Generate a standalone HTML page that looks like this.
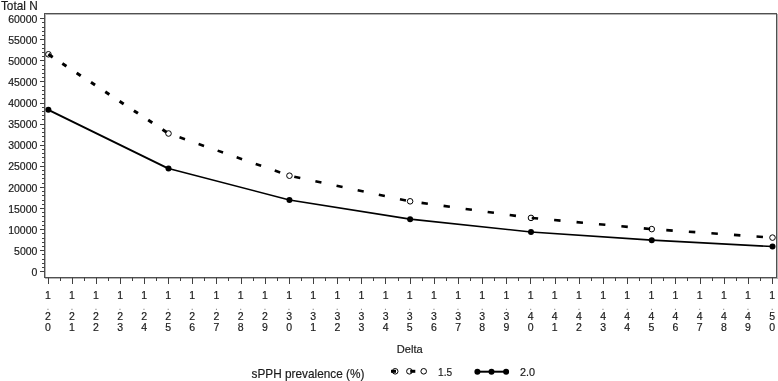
<!DOCTYPE html>
<html><head><meta charset="utf-8"><style>
html,body{margin:0;padding:0;background:#fff;}
body{width:778px;height:381px;overflow:hidden;}
svg{display:block;will-change:transform;}
text{font-family:"Liberation Sans",sans-serif;fill:#1a1a1a;stroke:#1a1a1a;stroke-width:0.18px;}
</style></head><body>
<svg width="778" height="381" viewBox="0 0 778 381">
<rect x="0" y="0" width="778" height="381" fill="#fff"/>
<rect x="45.5" y="14.5" width="732.0" height="264.0" fill="none" stroke="#b4b4b4" stroke-width="1"/>
<rect x="44.5" y="13.5" width="732.0" height="264.0" fill="none" stroke="#505050" stroke-width="1"/>
<line x1="40" y1="271.5" x2="44.5" y2="271.5" stroke="#404040"/>
<text transform="translate(31.56,275.90) scale(1.0000,1)" style="font-size:10.5px">0</text>
<line x1="42" y1="267.5" x2="44.5" y2="267.5" stroke="#404040"/>
<line x1="42" y1="263.5" x2="44.5" y2="263.5" stroke="#404040"/>
<line x1="42" y1="259.5" x2="44.5" y2="259.5" stroke="#404040"/>
<line x1="42" y1="254.5" x2="44.5" y2="254.5" stroke="#404040"/>
<line x1="40" y1="250.5" x2="44.5" y2="250.5" stroke="#404040"/>
<text transform="translate(14.06,254.81) scale(1.0000,1)" style="font-size:10.5px">5000</text>
<line x1="42" y1="246.5" x2="44.5" y2="246.5" stroke="#404040"/>
<line x1="42" y1="242.5" x2="44.5" y2="242.5" stroke="#404040"/>
<line x1="42" y1="238.5" x2="44.5" y2="238.5" stroke="#404040"/>
<line x1="42" y1="233.5" x2="44.5" y2="233.5" stroke="#404040"/>
<line x1="40" y1="229.5" x2="44.5" y2="229.5" stroke="#404040"/>
<text transform="translate(8.19,233.72) scale(1.0000,1)" style="font-size:10.5px">10000</text>
<line x1="42" y1="225.5" x2="44.5" y2="225.5" stroke="#404040"/>
<line x1="42" y1="221.5" x2="44.5" y2="221.5" stroke="#404040"/>
<line x1="42" y1="216.5" x2="44.5" y2="216.5" stroke="#404040"/>
<line x1="42" y1="212.5" x2="44.5" y2="212.5" stroke="#404040"/>
<line x1="40" y1="208.5" x2="44.5" y2="208.5" stroke="#404040"/>
<text transform="translate(8.19,212.62) scale(1.0000,1)" style="font-size:10.5px">15000</text>
<line x1="42" y1="204.5" x2="44.5" y2="204.5" stroke="#404040"/>
<line x1="42" y1="200.5" x2="44.5" y2="200.5" stroke="#404040"/>
<line x1="42" y1="195.5" x2="44.5" y2="195.5" stroke="#404040"/>
<line x1="42" y1="191.5" x2="44.5" y2="191.5" stroke="#404040"/>
<line x1="40" y1="187.5" x2="44.5" y2="187.5" stroke="#404040"/>
<text transform="translate(8.19,191.53) scale(1.0000,1)" style="font-size:10.5px">20000</text>
<line x1="42" y1="183.5" x2="44.5" y2="183.5" stroke="#404040"/>
<line x1="42" y1="178.5" x2="44.5" y2="178.5" stroke="#404040"/>
<line x1="42" y1="174.5" x2="44.5" y2="174.5" stroke="#404040"/>
<line x1="42" y1="170.5" x2="44.5" y2="170.5" stroke="#404040"/>
<line x1="40" y1="166.5" x2="44.5" y2="166.5" stroke="#404040"/>
<text transform="translate(8.19,170.44) scale(1.0000,1)" style="font-size:10.5px">25000</text>
<line x1="42" y1="162.5" x2="44.5" y2="162.5" stroke="#404040"/>
<line x1="42" y1="157.5" x2="44.5" y2="157.5" stroke="#404040"/>
<line x1="42" y1="153.5" x2="44.5" y2="153.5" stroke="#404040"/>
<line x1="42" y1="149.5" x2="44.5" y2="149.5" stroke="#404040"/>
<line x1="40" y1="145.5" x2="44.5" y2="145.5" stroke="#404040"/>
<text transform="translate(8.19,149.35) scale(1.0000,1)" style="font-size:10.5px">30000</text>
<line x1="42" y1="141.5" x2="44.5" y2="141.5" stroke="#404040"/>
<line x1="42" y1="136.5" x2="44.5" y2="136.5" stroke="#404040"/>
<line x1="42" y1="132.5" x2="44.5" y2="132.5" stroke="#404040"/>
<line x1="42" y1="128.5" x2="44.5" y2="128.5" stroke="#404040"/>
<line x1="40" y1="124.5" x2="44.5" y2="124.5" stroke="#404040"/>
<text transform="translate(8.19,128.26) scale(1.0000,1)" style="font-size:10.5px">35000</text>
<line x1="42" y1="119.5" x2="44.5" y2="119.5" stroke="#404040"/>
<line x1="42" y1="115.5" x2="44.5" y2="115.5" stroke="#404040"/>
<line x1="42" y1="111.5" x2="44.5" y2="111.5" stroke="#404040"/>
<line x1="42" y1="107.5" x2="44.5" y2="107.5" stroke="#404040"/>
<line x1="40" y1="103.5" x2="44.5" y2="103.5" stroke="#404040"/>
<text transform="translate(8.19,107.17) scale(1.0000,1)" style="font-size:10.5px">40000</text>
<line x1="42" y1="98.5" x2="44.5" y2="98.5" stroke="#404040"/>
<line x1="42" y1="94.5" x2="44.5" y2="94.5" stroke="#404040"/>
<line x1="42" y1="90.5" x2="44.5" y2="90.5" stroke="#404040"/>
<line x1="42" y1="86.5" x2="44.5" y2="86.5" stroke="#404040"/>
<line x1="40" y1="81.5" x2="44.5" y2="81.5" stroke="#404040"/>
<text transform="translate(8.19,86.07) scale(1.0000,1)" style="font-size:10.5px">45000</text>
<line x1="42" y1="77.5" x2="44.5" y2="77.5" stroke="#404040"/>
<line x1="42" y1="73.5" x2="44.5" y2="73.5" stroke="#404040"/>
<line x1="42" y1="69.5" x2="44.5" y2="69.5" stroke="#404040"/>
<line x1="42" y1="65.5" x2="44.5" y2="65.5" stroke="#404040"/>
<line x1="40" y1="60.5" x2="44.5" y2="60.5" stroke="#404040"/>
<text transform="translate(8.19,64.98) scale(1.0000,1)" style="font-size:10.5px">50000</text>
<line x1="42" y1="56.5" x2="44.5" y2="56.5" stroke="#404040"/>
<line x1="42" y1="52.5" x2="44.5" y2="52.5" stroke="#404040"/>
<line x1="42" y1="48.5" x2="44.5" y2="48.5" stroke="#404040"/>
<line x1="42" y1="44.5" x2="44.5" y2="44.5" stroke="#404040"/>
<line x1="40" y1="39.5" x2="44.5" y2="39.5" stroke="#404040"/>
<text transform="translate(8.19,43.89) scale(1.0000,1)" style="font-size:10.5px">55000</text>
<line x1="42" y1="35.5" x2="44.5" y2="35.5" stroke="#404040"/>
<line x1="42" y1="31.5" x2="44.5" y2="31.5" stroke="#404040"/>
<line x1="42" y1="27.5" x2="44.5" y2="27.5" stroke="#404040"/>
<line x1="42" y1="22.5" x2="44.5" y2="22.5" stroke="#404040"/>
<line x1="40" y1="18.5" x2="44.5" y2="18.5" stroke="#404040"/>
<text transform="translate(8.19,22.80) scale(1.0000,1)" style="font-size:10.5px">60000</text>
<line x1="48.5" y1="277.5" x2="48.5" y2="284" stroke="#404040"/>
<line x1="60.5" y1="277.5" x2="60.5" y2="281" stroke="#404040"/>
<text x="48.00" y="299.00" text-anchor="middle" style="font-size:10.5px">1</text>
<text x="48.00" y="309.70" text-anchor="middle" style="font-size:10.5px;fill:#8a8a8a;stroke:none">.</text>
<text x="48.00" y="320.40" text-anchor="middle" style="font-size:10.5px">2</text>
<text x="48.00" y="331.10" text-anchor="middle" style="font-size:10.5px">0</text>
<line x1="72.5" y1="277.5" x2="72.5" y2="284" stroke="#404040"/>
<line x1="84.5" y1="277.5" x2="84.5" y2="281" stroke="#404040"/>
<text x="72.02" y="299.00" text-anchor="middle" style="font-size:10.5px">1</text>
<text x="72.02" y="309.70" text-anchor="middle" style="font-size:10.5px;fill:#8a8a8a;stroke:none">.</text>
<text x="72.02" y="320.40" text-anchor="middle" style="font-size:10.5px">2</text>
<text x="72.02" y="331.10" text-anchor="middle" style="font-size:10.5px">1</text>
<line x1="96.5" y1="277.5" x2="96.5" y2="284" stroke="#404040"/>
<line x1="108.5" y1="277.5" x2="108.5" y2="281" stroke="#404040"/>
<text x="96.04" y="299.00" text-anchor="middle" style="font-size:10.5px">1</text>
<text x="96.04" y="309.70" text-anchor="middle" style="font-size:10.5px;fill:#8a8a8a;stroke:none">.</text>
<text x="96.04" y="320.40" text-anchor="middle" style="font-size:10.5px">2</text>
<text x="96.04" y="331.10" text-anchor="middle" style="font-size:10.5px">2</text>
<line x1="120.5" y1="277.5" x2="120.5" y2="284" stroke="#404040"/>
<line x1="132.5" y1="277.5" x2="132.5" y2="281" stroke="#404040"/>
<text x="120.06" y="299.00" text-anchor="middle" style="font-size:10.5px">1</text>
<text x="120.06" y="309.70" text-anchor="middle" style="font-size:10.5px;fill:#8a8a8a;stroke:none">.</text>
<text x="120.06" y="320.40" text-anchor="middle" style="font-size:10.5px">2</text>
<text x="120.06" y="331.10" text-anchor="middle" style="font-size:10.5px">3</text>
<line x1="144.5" y1="277.5" x2="144.5" y2="284" stroke="#404040"/>
<line x1="156.5" y1="277.5" x2="156.5" y2="281" stroke="#404040"/>
<text x="144.08" y="299.00" text-anchor="middle" style="font-size:10.5px">1</text>
<text x="144.08" y="309.70" text-anchor="middle" style="font-size:10.5px;fill:#8a8a8a;stroke:none">.</text>
<text x="144.08" y="320.40" text-anchor="middle" style="font-size:10.5px">2</text>
<text x="144.08" y="331.10" text-anchor="middle" style="font-size:10.5px">4</text>
<line x1="168.5" y1="277.5" x2="168.5" y2="284" stroke="#404040"/>
<line x1="180.5" y1="277.5" x2="180.5" y2="281" stroke="#404040"/>
<text x="168.10" y="299.00" text-anchor="middle" style="font-size:10.5px">1</text>
<text x="168.10" y="309.70" text-anchor="middle" style="font-size:10.5px;fill:#8a8a8a;stroke:none">.</text>
<text x="168.10" y="320.40" text-anchor="middle" style="font-size:10.5px">2</text>
<text x="168.10" y="331.10" text-anchor="middle" style="font-size:10.5px">5</text>
<line x1="192.5" y1="277.5" x2="192.5" y2="284" stroke="#404040"/>
<line x1="204.5" y1="277.5" x2="204.5" y2="281" stroke="#404040"/>
<text x="192.29" y="299.00" text-anchor="middle" style="font-size:10.5px">1</text>
<text x="192.29" y="309.70" text-anchor="middle" style="font-size:10.5px;fill:#8a8a8a;stroke:none">.</text>
<text x="192.29" y="320.40" text-anchor="middle" style="font-size:10.5px">2</text>
<text x="192.29" y="331.10" text-anchor="middle" style="font-size:10.5px">6</text>
<line x1="216.5" y1="277.5" x2="216.5" y2="284" stroke="#404040"/>
<line x1="228.5" y1="277.5" x2="228.5" y2="281" stroke="#404040"/>
<text x="216.48" y="299.00" text-anchor="middle" style="font-size:10.5px">1</text>
<text x="216.48" y="309.70" text-anchor="middle" style="font-size:10.5px;fill:#8a8a8a;stroke:none">.</text>
<text x="216.48" y="320.40" text-anchor="middle" style="font-size:10.5px">2</text>
<text x="216.48" y="331.10" text-anchor="middle" style="font-size:10.5px">7</text>
<line x1="241.5" y1="277.5" x2="241.5" y2="284" stroke="#404040"/>
<line x1="253.5" y1="277.5" x2="253.5" y2="281" stroke="#404040"/>
<text x="240.67" y="299.00" text-anchor="middle" style="font-size:10.5px">1</text>
<text x="240.67" y="309.70" text-anchor="middle" style="font-size:10.5px;fill:#8a8a8a;stroke:none">.</text>
<text x="240.67" y="320.40" text-anchor="middle" style="font-size:10.5px">2</text>
<text x="240.67" y="331.10" text-anchor="middle" style="font-size:10.5px">8</text>
<line x1="265.5" y1="277.5" x2="265.5" y2="284" stroke="#404040"/>
<line x1="277.5" y1="277.5" x2="277.5" y2="281" stroke="#404040"/>
<text x="264.86" y="299.00" text-anchor="middle" style="font-size:10.5px">1</text>
<text x="264.86" y="309.70" text-anchor="middle" style="font-size:10.5px;fill:#8a8a8a;stroke:none">.</text>
<text x="264.86" y="320.40" text-anchor="middle" style="font-size:10.5px">2</text>
<text x="264.86" y="331.10" text-anchor="middle" style="font-size:10.5px">9</text>
<line x1="289.5" y1="277.5" x2="289.5" y2="284" stroke="#404040"/>
<line x1="301.5" y1="277.5" x2="301.5" y2="281" stroke="#404040"/>
<text x="289.05" y="299.00" text-anchor="middle" style="font-size:10.5px">1</text>
<text x="289.05" y="309.70" text-anchor="middle" style="font-size:10.5px;fill:#8a8a8a;stroke:none">.</text>
<text x="289.05" y="320.40" text-anchor="middle" style="font-size:10.5px">3</text>
<text x="289.05" y="331.10" text-anchor="middle" style="font-size:10.5px">0</text>
<line x1="313.5" y1="277.5" x2="313.5" y2="284" stroke="#404040"/>
<line x1="325.5" y1="277.5" x2="325.5" y2="281" stroke="#404040"/>
<text x="313.18" y="299.00" text-anchor="middle" style="font-size:10.5px">1</text>
<text x="313.18" y="309.70" text-anchor="middle" style="font-size:10.5px;fill:#8a8a8a;stroke:none">.</text>
<text x="313.18" y="320.40" text-anchor="middle" style="font-size:10.5px">3</text>
<text x="313.18" y="331.10" text-anchor="middle" style="font-size:10.5px">1</text>
<line x1="337.5" y1="277.5" x2="337.5" y2="284" stroke="#404040"/>
<line x1="349.5" y1="277.5" x2="349.5" y2="281" stroke="#404040"/>
<text x="337.31" y="299.00" text-anchor="middle" style="font-size:10.5px">1</text>
<text x="337.31" y="309.70" text-anchor="middle" style="font-size:10.5px;fill:#8a8a8a;stroke:none">.</text>
<text x="337.31" y="320.40" text-anchor="middle" style="font-size:10.5px">3</text>
<text x="337.31" y="331.10" text-anchor="middle" style="font-size:10.5px">2</text>
<line x1="361.5" y1="277.5" x2="361.5" y2="284" stroke="#404040"/>
<line x1="373.5" y1="277.5" x2="373.5" y2="281" stroke="#404040"/>
<text x="361.44" y="299.00" text-anchor="middle" style="font-size:10.5px">1</text>
<text x="361.44" y="309.70" text-anchor="middle" style="font-size:10.5px;fill:#8a8a8a;stroke:none">.</text>
<text x="361.44" y="320.40" text-anchor="middle" style="font-size:10.5px">3</text>
<text x="361.44" y="331.10" text-anchor="middle" style="font-size:10.5px">3</text>
<line x1="385.5" y1="277.5" x2="385.5" y2="284" stroke="#404040"/>
<line x1="398.5" y1="277.5" x2="398.5" y2="281" stroke="#404040"/>
<text x="385.57" y="299.00" text-anchor="middle" style="font-size:10.5px">1</text>
<text x="385.57" y="309.70" text-anchor="middle" style="font-size:10.5px;fill:#8a8a8a;stroke:none">.</text>
<text x="385.57" y="320.40" text-anchor="middle" style="font-size:10.5px">3</text>
<text x="385.57" y="331.10" text-anchor="middle" style="font-size:10.5px">4</text>
<line x1="410.5" y1="277.5" x2="410.5" y2="284" stroke="#404040"/>
<line x1="422.5" y1="277.5" x2="422.5" y2="281" stroke="#404040"/>
<text x="409.70" y="299.00" text-anchor="middle" style="font-size:10.5px">1</text>
<text x="409.70" y="309.70" text-anchor="middle" style="font-size:10.5px;fill:#8a8a8a;stroke:none">.</text>
<text x="409.70" y="320.40" text-anchor="middle" style="font-size:10.5px">3</text>
<text x="409.70" y="331.10" text-anchor="middle" style="font-size:10.5px">5</text>
<line x1="434.5" y1="277.5" x2="434.5" y2="284" stroke="#404040"/>
<line x1="446.5" y1="277.5" x2="446.5" y2="281" stroke="#404040"/>
<text x="433.88" y="299.00" text-anchor="middle" style="font-size:10.5px">1</text>
<text x="433.88" y="309.70" text-anchor="middle" style="font-size:10.5px;fill:#8a8a8a;stroke:none">.</text>
<text x="433.88" y="320.40" text-anchor="middle" style="font-size:10.5px">3</text>
<text x="433.88" y="331.10" text-anchor="middle" style="font-size:10.5px">6</text>
<line x1="458.5" y1="277.5" x2="458.5" y2="284" stroke="#404040"/>
<line x1="470.5" y1="277.5" x2="470.5" y2="281" stroke="#404040"/>
<text x="458.06" y="299.00" text-anchor="middle" style="font-size:10.5px">1</text>
<text x="458.06" y="309.70" text-anchor="middle" style="font-size:10.5px;fill:#8a8a8a;stroke:none">.</text>
<text x="458.06" y="320.40" text-anchor="middle" style="font-size:10.5px">3</text>
<text x="458.06" y="331.10" text-anchor="middle" style="font-size:10.5px">7</text>
<line x1="482.5" y1="277.5" x2="482.5" y2="284" stroke="#404040"/>
<line x1="494.5" y1="277.5" x2="494.5" y2="281" stroke="#404040"/>
<text x="482.24" y="299.00" text-anchor="middle" style="font-size:10.5px">1</text>
<text x="482.24" y="309.70" text-anchor="middle" style="font-size:10.5px;fill:#8a8a8a;stroke:none">.</text>
<text x="482.24" y="320.40" text-anchor="middle" style="font-size:10.5px">3</text>
<text x="482.24" y="331.10" text-anchor="middle" style="font-size:10.5px">8</text>
<line x1="506.5" y1="277.5" x2="506.5" y2="284" stroke="#404040"/>
<line x1="518.5" y1="277.5" x2="518.5" y2="281" stroke="#404040"/>
<text x="506.42" y="299.00" text-anchor="middle" style="font-size:10.5px">1</text>
<text x="506.42" y="309.70" text-anchor="middle" style="font-size:10.5px;fill:#8a8a8a;stroke:none">.</text>
<text x="506.42" y="320.40" text-anchor="middle" style="font-size:10.5px">3</text>
<text x="506.42" y="331.10" text-anchor="middle" style="font-size:10.5px">9</text>
<line x1="530.5" y1="277.5" x2="530.5" y2="284" stroke="#404040"/>
<line x1="543.5" y1="277.5" x2="543.5" y2="281" stroke="#404040"/>
<text x="530.60" y="299.00" text-anchor="middle" style="font-size:10.5px">1</text>
<text x="530.60" y="309.70" text-anchor="middle" style="font-size:10.5px;fill:#8a8a8a;stroke:none">.</text>
<text x="530.60" y="320.40" text-anchor="middle" style="font-size:10.5px">4</text>
<text x="530.60" y="331.10" text-anchor="middle" style="font-size:10.5px">0</text>
<line x1="555.5" y1="277.5" x2="555.5" y2="284" stroke="#404040"/>
<line x1="567.5" y1="277.5" x2="567.5" y2="281" stroke="#404040"/>
<text x="554.75" y="299.00" text-anchor="middle" style="font-size:10.5px">1</text>
<text x="554.75" y="309.70" text-anchor="middle" style="font-size:10.5px;fill:#8a8a8a;stroke:none">.</text>
<text x="554.75" y="320.40" text-anchor="middle" style="font-size:10.5px">4</text>
<text x="554.75" y="331.10" text-anchor="middle" style="font-size:10.5px">1</text>
<line x1="579.5" y1="277.5" x2="579.5" y2="284" stroke="#404040"/>
<line x1="591.5" y1="277.5" x2="591.5" y2="281" stroke="#404040"/>
<text x="578.90" y="299.00" text-anchor="middle" style="font-size:10.5px">1</text>
<text x="578.90" y="309.70" text-anchor="middle" style="font-size:10.5px;fill:#8a8a8a;stroke:none">.</text>
<text x="578.90" y="320.40" text-anchor="middle" style="font-size:10.5px">4</text>
<text x="578.90" y="331.10" text-anchor="middle" style="font-size:10.5px">2</text>
<line x1="603.5" y1="277.5" x2="603.5" y2="284" stroke="#404040"/>
<line x1="615.5" y1="277.5" x2="615.5" y2="281" stroke="#404040"/>
<text x="603.05" y="299.00" text-anchor="middle" style="font-size:10.5px">1</text>
<text x="603.05" y="309.70" text-anchor="middle" style="font-size:10.5px;fill:#8a8a8a;stroke:none">.</text>
<text x="603.05" y="320.40" text-anchor="middle" style="font-size:10.5px">4</text>
<text x="603.05" y="331.10" text-anchor="middle" style="font-size:10.5px">3</text>
<line x1="627.5" y1="277.5" x2="627.5" y2="284" stroke="#404040"/>
<line x1="639.5" y1="277.5" x2="639.5" y2="281" stroke="#404040"/>
<text x="627.20" y="299.00" text-anchor="middle" style="font-size:10.5px">1</text>
<text x="627.20" y="309.70" text-anchor="middle" style="font-size:10.5px;fill:#8a8a8a;stroke:none">.</text>
<text x="627.20" y="320.40" text-anchor="middle" style="font-size:10.5px">4</text>
<text x="627.20" y="331.10" text-anchor="middle" style="font-size:10.5px">4</text>
<line x1="651.5" y1="277.5" x2="651.5" y2="284" stroke="#404040"/>
<line x1="663.5" y1="277.5" x2="663.5" y2="281" stroke="#404040"/>
<text x="651.35" y="299.00" text-anchor="middle" style="font-size:10.5px">1</text>
<text x="651.35" y="309.70" text-anchor="middle" style="font-size:10.5px;fill:#8a8a8a;stroke:none">.</text>
<text x="651.35" y="320.40" text-anchor="middle" style="font-size:10.5px">4</text>
<text x="651.35" y="331.10" text-anchor="middle" style="font-size:10.5px">5</text>
<line x1="675.5" y1="277.5" x2="675.5" y2="284" stroke="#404040"/>
<line x1="687.5" y1="277.5" x2="687.5" y2="281" stroke="#404040"/>
<text x="675.50" y="299.00" text-anchor="middle" style="font-size:10.5px">1</text>
<text x="675.50" y="309.70" text-anchor="middle" style="font-size:10.5px;fill:#8a8a8a;stroke:none">.</text>
<text x="675.50" y="320.40" text-anchor="middle" style="font-size:10.5px">4</text>
<text x="675.50" y="331.10" text-anchor="middle" style="font-size:10.5px">6</text>
<line x1="700.5" y1="277.5" x2="700.5" y2="284" stroke="#404040"/>
<line x1="712.5" y1="277.5" x2="712.5" y2="281" stroke="#404040"/>
<text x="699.65" y="299.00" text-anchor="middle" style="font-size:10.5px">1</text>
<text x="699.65" y="309.70" text-anchor="middle" style="font-size:10.5px;fill:#8a8a8a;stroke:none">.</text>
<text x="699.65" y="320.40" text-anchor="middle" style="font-size:10.5px">4</text>
<text x="699.65" y="331.10" text-anchor="middle" style="font-size:10.5px">7</text>
<line x1="724.5" y1="277.5" x2="724.5" y2="284" stroke="#404040"/>
<line x1="736.5" y1="277.5" x2="736.5" y2="281" stroke="#404040"/>
<text x="723.80" y="299.00" text-anchor="middle" style="font-size:10.5px">1</text>
<text x="723.80" y="309.70" text-anchor="middle" style="font-size:10.5px;fill:#8a8a8a;stroke:none">.</text>
<text x="723.80" y="320.40" text-anchor="middle" style="font-size:10.5px">4</text>
<text x="723.80" y="331.10" text-anchor="middle" style="font-size:10.5px">8</text>
<line x1="748.5" y1="277.5" x2="748.5" y2="284" stroke="#404040"/>
<line x1="760.5" y1="277.5" x2="760.5" y2="281" stroke="#404040"/>
<text x="747.95" y="299.00" text-anchor="middle" style="font-size:10.5px">1</text>
<text x="747.95" y="309.70" text-anchor="middle" style="font-size:10.5px;fill:#8a8a8a;stroke:none">.</text>
<text x="747.95" y="320.40" text-anchor="middle" style="font-size:10.5px">4</text>
<text x="747.95" y="331.10" text-anchor="middle" style="font-size:10.5px">9</text>
<line x1="772.5" y1="277.5" x2="772.5" y2="284" stroke="#404040"/>
<text x="772.10" y="299.00" text-anchor="middle" style="font-size:10.5px">1</text>
<text x="772.10" y="309.70" text-anchor="middle" style="font-size:10.5px;fill:#8a8a8a;stroke:none">.</text>
<text x="772.10" y="320.40" text-anchor="middle" style="font-size:10.5px">5</text>
<text x="772.10" y="331.10" text-anchor="middle" style="font-size:10.5px">0</text>
<line x1="48.40" y1="109.85" x2="168.50" y2="168.55" stroke="#000" stroke-width="2.0" stroke-linecap="round"/>
<line x1="168.50" y1="168.55" x2="289.45" y2="199.95" stroke="#000" stroke-width="1.65" stroke-linecap="round"/>
<line x1="289.45" y1="199.95" x2="410.10" y2="219.15" stroke="#000" stroke-width="1.65" stroke-linecap="round"/>
<line x1="410.10" y1="219.15" x2="531.00" y2="231.95" stroke="#000" stroke-width="1.65" stroke-linecap="round"/>
<line x1="531.00" y1="231.95" x2="651.75" y2="240.15" stroke="#000" stroke-width="1.65" stroke-linecap="round"/>
<line x1="651.75" y1="240.15" x2="772.50" y2="246.55" stroke="#000" stroke-width="1.65" stroke-linecap="round"/>
<circle cx="48.40" cy="109.85" r="3.0" fill="#000"/>
<circle cx="168.50" cy="168.55" r="3.0" fill="#000"/>
<circle cx="289.45" cy="199.95" r="3.0" fill="#000"/>
<circle cx="410.10" cy="219.15" r="3.0" fill="#000"/>
<circle cx="531.00" cy="231.95" r="3.0" fill="#000"/>
<circle cx="651.75" cy="240.15" r="3.0" fill="#000"/>
<circle cx="772.50" cy="246.55" r="3.0" fill="#000"/>
<circle cx="48.40" cy="54.30" r="2.8" fill="none" stroke="#000" stroke-width="1"/>
<circle cx="168.50" cy="133.50" r="2.8" fill="none" stroke="#000" stroke-width="1"/>
<circle cx="289.45" cy="175.70" r="2.8" fill="none" stroke="#000" stroke-width="1"/>
<circle cx="410.10" cy="201.30" r="2.8" fill="none" stroke="#000" stroke-width="1"/>
<circle cx="531.00" cy="217.90" r="2.8" fill="none" stroke="#000" stroke-width="1"/>
<circle cx="651.75" cy="229.10" r="2.8" fill="none" stroke="#000" stroke-width="1"/>
<circle cx="772.50" cy="237.60" r="2.8" fill="none" stroke="#000" stroke-width="1"/>
<path d="M48.40 54.30L52.14 56.76M62.35 63.50L66.44 66.20M76.66 72.94L80.75 75.63M90.97 82.37L95.05 85.07M105.27 91.80L109.36 94.50M119.58 101.24L123.67 103.93M133.88 110.67L137.97 113.37M148.19 120.11L152.28 122.80M162.50 129.54L166.58 132.24M48.65 54.47L52.74 57.16" fill="none" stroke="#000" stroke-width="3.00"/>
<path d="M179.55 137.35L184.99 139.25M198.59 144.00L204.03 145.90M217.62 150.64L223.06 152.54M236.66 157.28L242.10 159.18M255.70 163.92L261.14 165.82M274.74 170.57L280.18 172.46" fill="none" stroke="#000" stroke-width="2.60"/>
<path d="M294.25 176.72L300.29 178.00M315.39 181.20L321.43 182.49M336.53 185.69L342.57 186.97M357.67 190.18L363.71 191.46M378.81 194.66L384.85 195.94M399.95 199.15L405.99 200.43" fill="none" stroke="#000" stroke-width="2.60"/>
<path d="M421.55 202.87L427.84 203.74M443.58 205.90L449.88 206.76M465.61 208.92L471.91 209.79M487.64 211.95L493.94 212.81M509.68 214.97L515.97 215.84" fill="none" stroke="#000" stroke-width="2.60"/>
<path d="M531.72 217.97L538.12 218.56M554.13 220.05L560.54 220.64M576.55 222.12L582.95 222.72M598.96 224.20L605.36 224.80M621.37 226.28L627.78 226.88M643.79 228.36L650.19 228.96" fill="none" stroke="#000" stroke-width="2.60"/>
<path d="M666.29 230.12L672.74 230.58M688.85 231.71L695.29 232.16M711.40 233.30L717.84 233.75M733.95 234.89L740.40 235.34M756.51 236.47L762.95 236.93" fill="none" stroke="#000" stroke-width="2.60"/>
<text transform="translate(0.95,10.00) scale(0.9855,1)" style="font-size:12px">Total N</text>
<text transform="translate(396.79,352.50) scale(0.9681,1)" style="font-size:11.5px">Delta</text>
<text transform="translate(251.59,377.70) scale(0.9839,1)" style="font-size:12px">sPPH prevalence (%)</text>
<circle cx="395.2" cy="371.3" r="2.8" fill="none" stroke="#000" stroke-width="1"/>
<circle cx="409.4" cy="371.3" r="2.8" fill="none" stroke="#000" stroke-width="1"/>
<circle cx="423.7" cy="371.3" r="2.8" fill="none" stroke="#000" stroke-width="1"/>
<line x1="391" y1="371.3" x2="396" y2="371.3" stroke="#000" stroke-width="3"/>
<line x1="410.2" y1="371.3" x2="415.3" y2="371.3" stroke="#000" stroke-width="3"/>
<text transform="translate(438.00,376.20) scale(0.9209,1)" style="font-size:11px">1.5</text>
<line x1="477.4" y1="371.7" x2="506.1" y2="371.7" stroke="#000" stroke-width="2"/>
<circle cx="477.4" cy="371.7" r="3.0" fill="#000"/>
<circle cx="491.5" cy="371.7" r="3.0" fill="#000"/>
<circle cx="506.1" cy="371.7" r="3.0" fill="#000"/>
<text transform="translate(519.95,376.20) scale(0.9852,1)" style="font-size:11px">2.0</text>
</svg>
</body></html>
